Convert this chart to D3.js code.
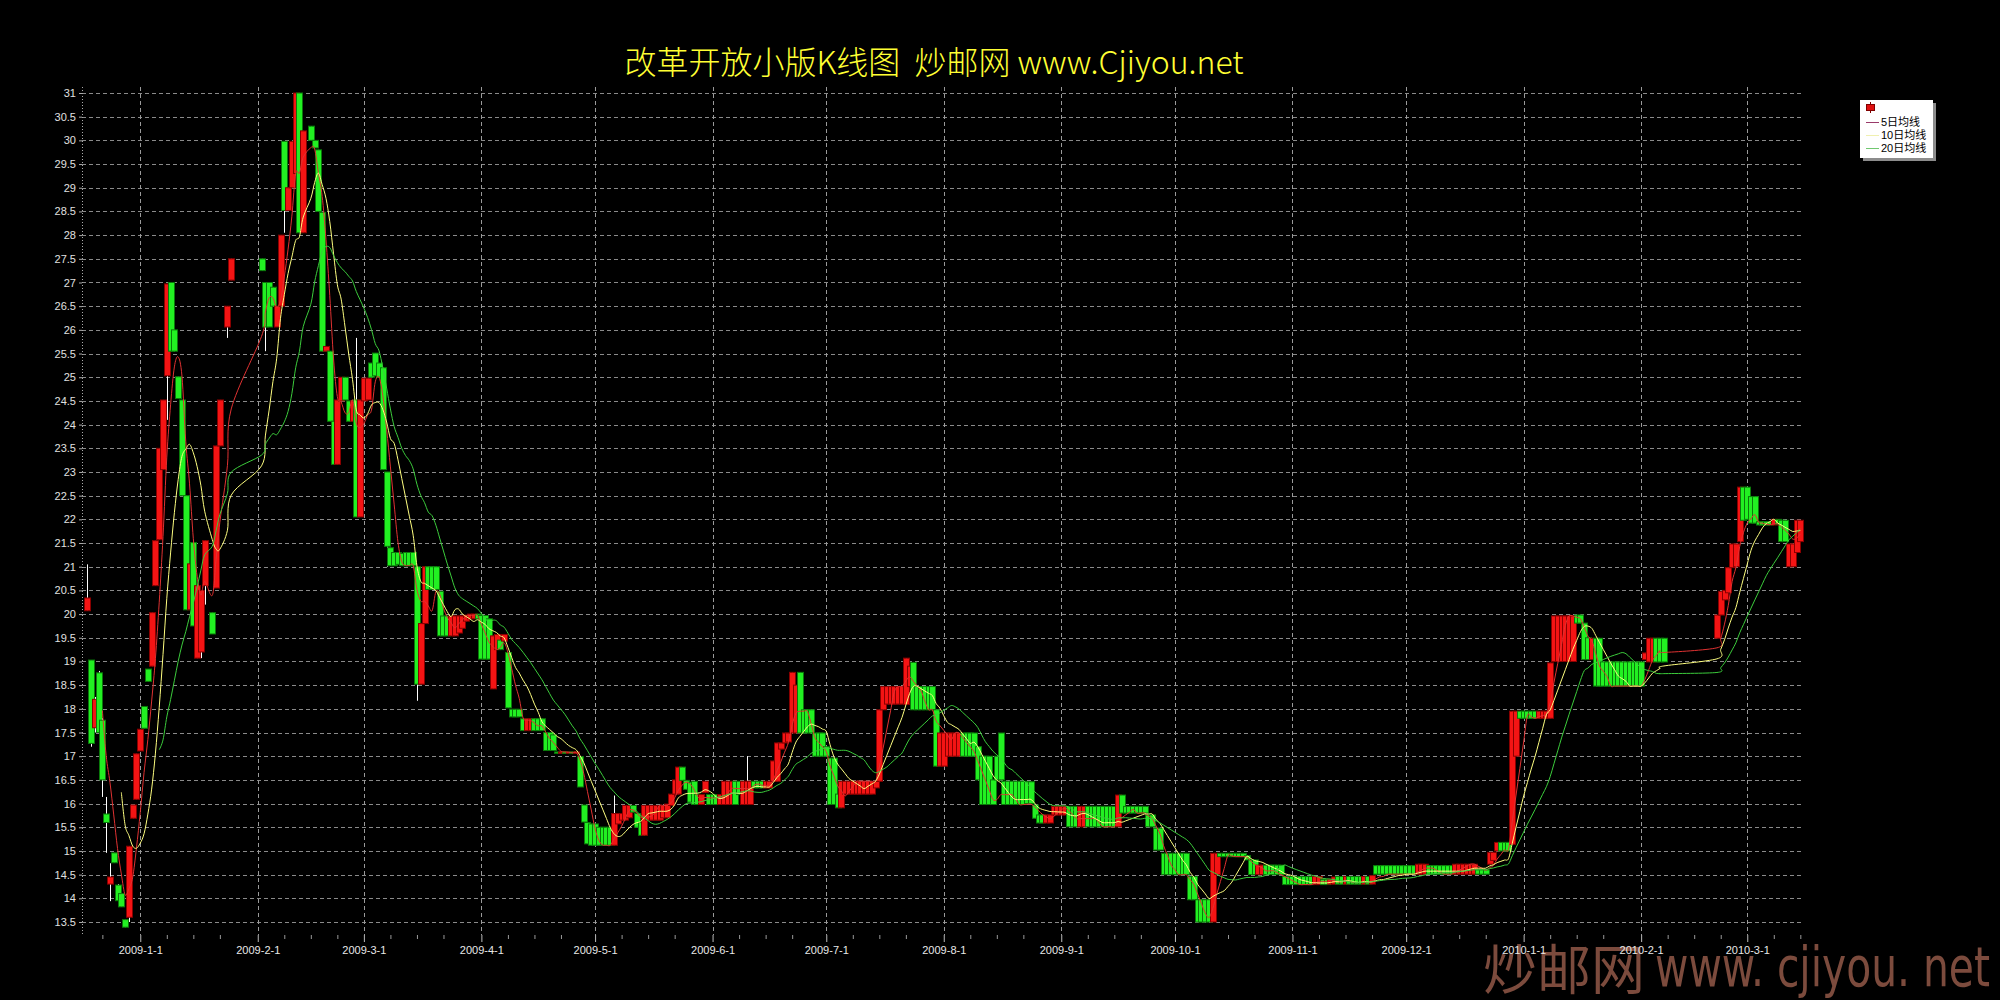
<!DOCTYPE html>
<html><head><meta charset="utf-8">
<script src="https://cdn.jsdelivr.net/npm/d3@7"></script>
<style>html,body{margin:0;padding:0;background:#000;overflow:hidden}svg{display:block}</style>
</head><body>
<svg id="c" width="2000" height="1000"></svg>
<script>
// ---- DATA (day = days since 2009-01-01) ----
const titleText = "改革开放小版K线图  炒邮网 www.Cjiyou.net";
const legendLabels = ["5日均线", "10日均线", "20日均线"];
const maPeriods = [5, 10, 20];
const yTickValues = [13.5,14,14.5,15,15.5,16,16.5,17,17.5,18,18.5,19,19.5,20,20.5,21,21.5,22,22.5,23,23.5,24,24.5,25,25.5,26,26.5,27,27.5,28,28.5,29,29.5,30,30.5,31];

const days = [
-14,-13,-12,-11,-10,-9,-8,-7,-6,-5,
-4,-3,-2,-1,0,1,2,3,4,5,
6,7,8,9,10,11,12,13,14,15,
16,17,19,20,21,23,24,
32,33,34,35,36,37,38,39,40,41,
42,43,45,46,47,48,49,50,51,52,
53,54,55,56,57,58,59,60,61,62,
63,64,65,66,67,68,69,70,71,72,
73,74,75,76,77,78,79,80,81,82,
83,84,85,86,87,88,89,90,91,92,
93,94,95,96,97,98,99,100,101,102,
103,104,105,106,107,108,109,110,111,112,
113,114,115,116,117,118,119,120,121,122,
123,124,125,126,127,128,129,130,131,132,
133,134,135,136,137,138,139,140,141,142,
143,144,145,146,147,148,149,150,151,152,
153,154,155,156,157,158,159,160,161,162,
163,164,165,166,167,168,169,170,171,172,
173,174,175,176,177,178,179,180,181,182,
183,184,185,186,187,188,189,190,191,192,
193,194,195,196,197,198,199,200,201,202,
203,204,205,206,207,208,209,210,211,212,
213,214,215,216,217,218,219,220,221,222,
223,224,225,226,227,228,229,230,231,232,
233,234,235,236,237,238,239,240,241,242,
243,244,245,246,247,248,249,250,251,252,
253,254,255,256,257,258,259,260,261,262,
263,264,265,266,267,268,269,270,271,272,
273,274,275,276,277,278,279,280,281,282,
283,284,285,286,287,288,289,290,291,292,
293,294,295,296,297,298,299,300,301,302,
303,304,305,306,307,308,309,310,311,312,
313,314,315,316,317,318,319,320,321,322,
323,324,325,326,327,328,329,330,331,332,
333,334,335,336,337,338,339,340,341,342,
343,344,345,346,347,348,349,350,351,352,
353,354,355,356,357,358,359,360,361,362,
363,364,365,366,367,368,369,370,371,372,
373,374,375,376,377,378,379,380,381,382,
383,384,385,386,387,388,389,390,391,392,
393,394,395,396,397,398,399,400,401,402,
416,417,418,419,420,421,422,423,424,425,
426,427,428,429,430,431,432,433,434,435,436,437,438
];

const open = [
20.07,19.03,17.60,18.76,17.76,15.78,14.30,14.96,14.28,14.10,
13.55,13.60,15.69,16.09,17.11,18.05,18.84,18.90,20.60,21.57,
23.05,25.03,27.00,26.00,25.01,24.52,22.50,20.09,21.51,19.07,
19.20,20.60,20.03,20.55,23.55,26.06,27.05,
27.50,27.00,27.00,26.90,26.06,26.50,29.98,28.52,29.00,29.30,
31.00,28.05,30.30,30.00,29.80,28.48,25.55,25.55,24.07,23.16,
24.50,25.00,24.50,24.07,24.52,22.05,24.50,24.52,25.30,25.51,
25.30,25.20,23.00,21.40,21.30,21.30,21.28,21.30,21.30,21.30,
21.00,18.52,19.80,21.00,21.00,21.00,20.48,19.96,19.96,19.54,
19.54,19.60,19.70,19.85,19.90,19.90,20.00,19.97,19.97,19.90,
18.42,19.25,19.45,19.43,19.19,17.99,17.99,17.99,17.79,17.54,
17.54,17.79,17.79,17.79,17.50,17.50,17.45,17.09,17.06,17.09,
17.06,17.09,17.06,16.99,15.97,15.60,15.57,15.57,15.50,15.50,
15.50,15.50,15.12,15.57,15.65,15.65,15.70,15.96,15.79,15.60,
15.33,15.65,15.65,15.65,15.65,15.70,15.70,15.96,16.20,16.20,
16.77,16.49,16.45,16.47,16.20,15.98,16.23,16.19,16.19,16.19,
15.98,15.98,15.98,15.98,16.47,16.47,15.98,15.98,15.98,16.47,
16.47,16.47,16.33,16.33,16.47,16.47,17.15,17.28,17.30,17.49,
17.49,18.77,17.98,17.98,17.98,17.49,17.49,17.49,17.20,16.96,
16.96,16.20,15.91,16.20,16.20,16.20,16.20,16.20,16.20,16.20,
16.20,16.33,16.47,17.98,18.10,18.10,18.10,18.10,18.10,18.09,
18.47,18.98,18.47,18.47,18.47,18.47,18.47,17.98,16.79,16.79,
17.00,17.00,17.00,17.00,17.49,17.49,17.49,17.49,17.20,17.00,
17.00,17.00,16.50,17.00,17.49,16.47,16.47,16.47,16.47,16.47,
16.47,16.46,16.46,15.97,15.76,15.76,15.59,15.59,15.76,15.76,
15.76,15.76,15.94,15.94,15.94,15.51,15.51,15.94,15.94,15.94,
15.94,15.94,15.94,15.94,15.94,15.51,16.18,15.94,15.94,15.94,
15.94,15.94,15.94,15.76,15.76,15.48,15.48,14.95,14.95,14.95,
14.95,14.95,14.95,14.95,14.46,14.46,13.97,13.97,13.97,13.97,
13.50,14.50,14.95,14.95,14.95,14.95,14.95,14.95,14.95,14.90,
14.81,14.81,14.50,14.50,14.70,14.70,14.70,14.70,14.70,14.46,
14.46,14.46,14.46,14.46,14.46,14.46,14.46,14.29,14.29,14.40,
14.40,14.30,14.30,14.46,14.46,14.30,14.46,14.46,14.46,14.46,
14.30,14.46,14.30,14.69,14.69,14.69,14.69,14.69,14.69,14.69,
14.69,14.69,14.69,14.69,14.51,14.51,14.51,14.69,14.69,14.69,
14.69,14.69,14.69,14.69,14.51,14.51,14.51,14.51,14.51,14.51,
14.60,14.60,14.60,14.72,14.80,15.00,15.18,15.18,15.18,15.14,
17.00,17.95,17.95,17.95,17.95,17.95,17.80,17.80,17.80,17.80,
19.00,19.00,19.00,19.00,19.00,19.00,19.98,19.98,19.81,19.50,
19.04,19.49,19.49,18.99,18.99,18.99,18.99,18.99,18.99,18.99,
18.99,18.99,18.99,18.99,19.04,18.99,18.99,19.49,19.49,19.49,
19.49,19.98,20.30,20.45,20.98,21.00,21.53,22.68,22.68,22.48,
22.48,21.95,21.95,21.95,21.95,21.88,22.00,21.98,21.98,21.00,21.00,21.30,21.53
];

const high = [
21.05,19.03,18.25,18.80,17.80,16.14,14.74,14.96,14.30,14.10,
13.55,15.10,15.97,17.05,17.57,18.05,18.84,20.03,21.55,23.50,
24.52,26.97,27.00,26.00,25.01,24.52,22.50,21.06,21.51,20.60,
20.50,21.55,20.03,23.55,24.52,26.50,27.50,
27.50,27.00,27.00,26.90,26.50,28.00,29.98,29.00,29.98,31.00,
31.00,30.20,30.30,30.00,29.80,28.48,25.65,25.55,24.07,24.52,
25.00,25.00,24.50,24.50,25.83,24.52,24.98,24.98,25.30,25.51,
25.30,25.20,23.00,21.40,21.30,21.30,21.28,21.30,21.30,21.30,
21.00,19.80,21.00,21.00,21.00,21.00,20.48,19.96,19.96,19.96,
19.96,19.96,19.96,19.98,20.00,20.00,20.00,19.97,19.97,19.90,
19.54,19.57,19.45,19.57,19.19,17.99,17.99,17.99,17.79,17.79,
17.79,17.79,17.79,17.79,17.50,17.50,17.45,17.09,17.09,17.09,
17.09,17.09,17.09,16.99,15.97,15.60,15.57,15.57,15.50,15.50,
15.50,15.50,16.17,15.79,15.79,15.96,15.96,15.96,15.79,15.60,
15.96,15.96,15.96,15.96,15.96,15.96,15.99,16.20,16.50,16.77,
16.77,16.49,16.45,16.47,16.20,16.19,16.47,16.19,16.19,16.19,
16.19,16.47,16.47,16.47,16.47,16.47,16.47,17.00,16.47,16.47,
16.47,16.47,16.47,16.47,16.90,17.28,17.28,17.49,17.49,18.77,
18.50,18.77,17.98,17.98,17.98,17.49,17.49,17.49,17.20,16.96,
16.96,16.20,16.47,16.47,16.47,16.47,16.47,16.47,16.47,16.47,
16.47,16.47,17.98,18.47,18.47,18.47,18.47,18.47,18.47,19.07,
18.90,18.98,18.47,18.47,18.47,18.47,18.47,17.98,17.49,17.49,
17.49,17.49,17.49,17.49,17.49,17.49,17.49,17.49,17.20,17.00,
17.00,17.00,16.50,17.00,17.49,16.47,16.47,16.47,16.47,16.47,
16.47,16.46,16.46,15.97,15.76,15.76,15.76,15.76,15.94,15.94,
15.94,15.94,15.94,15.94,15.94,15.94,15.94,15.94,15.94,15.94,
15.94,15.94,15.94,15.94,15.94,16.18,16.18,15.94,15.94,15.94,
15.94,15.94,15.94,15.76,15.76,15.48,15.48,14.95,14.95,14.95,
14.95,14.95,14.95,14.95,14.46,14.46,13.97,13.97,13.97,13.97,
14.95,14.95,14.95,14.95,14.95,14.95,14.95,14.95,14.95,14.90,
14.81,14.81,14.70,14.70,14.70,14.70,14.70,14.70,14.70,14.46,
14.46,14.46,14.46,14.46,14.46,14.46,14.46,14.46,14.46,14.40,
14.40,14.40,14.45,14.46,14.46,14.46,14.46,14.46,14.46,14.46,
14.46,14.46,14.48,14.69,14.69,14.69,14.69,14.69,14.69,14.69,
14.69,14.69,14.69,14.69,14.72,14.72,14.72,14.69,14.69,14.69,
14.69,14.69,14.69,14.69,14.72,14.72,14.72,14.72,14.72,14.72,
14.60,14.60,14.60,14.97,14.97,15.18,15.18,15.18,15.18,17.95,
17.95,17.95,17.95,17.95,17.95,17.95,17.95,17.95,17.95,18.97,
19.96,19.96,19.96,19.96,19.96,19.96,19.98,19.98,19.81,19.50,
19.49,19.49,19.49,18.99,18.99,18.99,18.99,18.99,18.99,18.99,
18.99,18.99,18.99,18.99,19.18,19.49,19.49,19.49,19.49,19.49,
19.98,20.48,20.50,20.98,21.48,21.48,22.68,22.68,22.68,22.48,
22.48,21.95,21.95,21.95,21.95,22.00,22.00,21.98,21.98,21.48,21.48,21.98,21.98
];

const low = [
20.07,17.20,17.50,17.50,16.14,14.96,13.94,14.75,13.90,13.82,
13.39,13.50,15.69,16.09,17.11,17.59,18.58,18.90,20.60,21.57,
23.05,24.10,25.55,25.55,24.55,22.50,20.09,20.09,19.75,19.07,
19.07,20.20,19.58,20.55,23.55,25.83,27.05,
27.25,25.55,26.06,26.50,26.06,26.50,28.05,28.52,29.00,29.30,
28.05,28.05,30.00,29.84,28.50,25.55,25.55,24.07,23.16,23.16,
24.50,24.52,24.07,24.07,22.05,22.05,24.50,24.52,25.00,25.03,
25.00,23.05,21.00,21.02,21.02,21.05,21.02,21.02,21.02,21.02,
18.17,18.52,19.80,20.52,20.52,20.52,19.54,19.54,19.54,19.54,
19.54,19.60,19.70,19.85,19.90,19.90,19.90,19.05,19.05,19.05,
18.42,19.25,19.25,19.43,18.02,17.83,17.83,17.83,17.54,17.54,
17.54,17.54,17.54,17.54,17.12,17.12,17.12,17.06,17.06,17.06,
17.06,17.06,17.06,16.35,15.61,15.15,15.12,15.12,15.12,15.12,
15.12,15.12,15.12,15.57,15.65,15.65,15.70,15.82,15.50,15.33,
15.33,15.65,15.65,15.65,15.65,15.70,15.70,15.96,16.20,16.20,
16.49,16.30,16.03,15.98,15.98,15.98,16.23,15.98,15.98,15.98,
15.98,15.98,15.98,15.98,15.98,16.19,15.98,15.98,15.98,16.33,
16.33,16.33,16.33,16.33,16.47,16.47,17.15,17.28,17.30,17.49,
17.49,17.49,17.49,17.49,17.49,17.00,17.00,17.00,17.00,15.98,
15.98,15.91,15.91,16.20,16.20,16.20,16.20,16.20,16.20,16.20,
16.20,16.33,16.47,17.98,18.10,18.10,18.10,18.10,18.10,18.09,
18.47,17.98,17.98,17.98,17.98,17.98,17.98,16.79,16.79,16.79,
17.00,17.00,17.00,17.00,17.00,17.00,17.00,17.00,16.50,15.98,
15.98,15.98,15.98,16.50,16.50,15.98,15.98,15.98,15.98,15.98,
15.98,16.00,16.00,15.69,15.59,15.59,15.59,15.59,15.76,15.76,
15.76,15.76,15.51,15.51,15.51,15.51,15.51,15.51,15.51,15.51,
15.51,15.51,15.51,15.51,15.51,15.51,15.80,15.80,15.80,15.80,
15.80,15.80,15.80,15.51,15.51,15.02,15.02,14.50,14.50,14.50,
14.50,14.50,14.50,14.50,13.97,13.97,13.50,13.50,13.50,13.50,
13.50,14.50,14.88,14.88,14.88,14.88,14.88,14.88,14.88,14.81,
14.50,14.50,14.50,14.50,14.50,14.50,14.50,14.50,14.50,14.29,
14.29,14.29,14.29,14.29,14.29,14.29,14.29,14.29,14.29,14.29,
14.29,14.30,14.30,14.30,14.30,14.30,14.30,14.30,14.30,14.30,
14.30,14.30,14.30,14.51,14.51,14.51,14.51,14.51,14.51,14.51,
14.51,14.51,14.51,14.51,14.51,14.51,14.51,14.51,14.51,14.51,
14.51,14.51,14.51,14.51,14.51,14.51,14.51,14.51,14.51,14.51,
14.51,14.51,14.51,14.72,14.80,15.00,15.00,15.00,15.00,15.14,
17.00,17.80,17.80,17.80,17.80,17.80,17.80,17.80,17.80,17.80,
19.00,19.00,19.00,19.00,19.00,19.00,19.81,19.81,19.04,19.04,
19.04,18.48,18.48,18.48,18.48,18.48,18.48,18.48,18.48,18.48,
18.48,18.48,18.48,18.48,19.04,18.99,18.99,18.99,18.99,18.99,
19.49,19.98,20.30,20.45,20.98,21.00,21.53,21.98,22.00,21.92,
21.92,21.88,21.88,21.88,21.88,21.88,21.90,21.53,21.53,21.00,21.00,21.30,21.53
];

const close = [
20.34,17.27,18.20,17.50,16.50,15.60,14.45,14.75,13.95,13.82,
13.39,15.10,15.97,17.05,17.57,17.59,18.58,20.03,21.55,23.50,
24.52,26.97,25.55,25.55,24.55,22.50,20.09,21.06,19.75,20.60,
20.50,21.55,19.58,23.55,24.52,26.50,27.50,
27.25,26.06,26.06,26.50,26.50,28.00,28.52,29.00,29.98,31.00,
28.05,30.20,30.00,29.84,28.50,25.55,25.65,24.07,23.16,24.52,
25.00,24.52,24.07,24.50,22.05,24.52,24.98,24.98,25.00,25.03,
25.00,23.05,21.43,21.02,21.02,21.05,21.02,21.02,21.02,21.02,
18.52,19.80,21.00,20.52,20.52,20.52,19.54,19.54,19.54,19.96,
19.96,19.96,19.96,19.98,20.00,20.00,19.90,19.05,19.05,19.05,
19.54,19.57,19.25,19.57,18.02,17.83,17.83,17.83,17.54,17.79,
17.79,17.54,17.54,17.54,17.12,17.12,17.12,17.06,17.09,17.06,
17.09,17.06,17.09,16.35,15.61,15.15,15.12,15.12,15.12,15.12,
15.12,15.12,15.79,15.79,15.79,15.96,15.96,15.82,15.50,15.33,
15.96,15.96,15.96,15.96,15.96,15.96,15.99,16.20,16.50,16.77,
16.49,16.30,16.03,15.98,15.98,16.19,16.47,15.98,15.98,15.98,
16.19,16.47,16.47,16.47,15.98,16.19,16.47,16.47,16.47,16.33,
16.33,16.33,16.47,16.47,16.90,17.28,17.28,17.49,17.49,18.77,
18.50,17.49,17.49,17.49,17.49,17.00,17.00,17.00,17.00,15.98,
15.98,15.91,16.47,16.47,16.47,16.47,16.47,16.47,16.47,16.47,
16.47,16.47,17.98,18.47,18.47,18.47,18.47,18.47,18.47,19.07,
18.90,17.98,17.98,17.98,17.98,17.98,17.98,16.79,17.49,17.49,
17.49,17.49,17.49,17.49,17.00,17.00,17.00,17.00,16.50,15.98,
15.98,15.98,15.98,16.50,16.50,15.98,15.98,15.98,15.98,15.98,
15.98,16.00,16.00,15.69,15.59,15.59,15.76,15.76,15.94,15.94,
15.94,15.94,15.51,15.51,15.51,15.94,15.94,15.51,15.51,15.51,
15.51,15.51,15.51,15.51,15.51,16.18,15.80,15.80,15.80,15.80,
15.80,15.80,15.80,15.51,15.51,15.02,15.02,14.50,14.50,14.50,
14.50,14.50,14.50,14.50,13.97,13.97,13.50,13.50,13.50,13.50,
14.95,14.95,14.88,14.88,14.88,14.88,14.88,14.88,14.88,14.81,
14.50,14.50,14.70,14.70,14.50,14.50,14.50,14.50,14.50,14.29,
14.29,14.29,14.29,14.29,14.29,14.29,14.29,14.46,14.46,14.29,
14.29,14.40,14.45,14.30,14.30,14.46,14.30,14.30,14.30,14.30,
14.46,14.30,14.48,14.51,14.51,14.51,14.51,14.51,14.51,14.51,
14.51,14.51,14.51,14.51,14.72,14.72,14.72,14.51,14.51,14.51,
14.51,14.51,14.51,14.51,14.72,14.72,14.72,14.72,14.72,14.72,
14.51,14.51,14.51,14.97,14.97,15.18,15.00,15.00,15.00,17.95,
17.95,17.80,17.80,17.80,17.80,17.80,17.95,17.95,17.95,18.97,
19.96,19.96,19.96,19.96,19.96,19.96,19.81,19.81,19.04,19.04,
19.49,18.48,18.48,18.48,18.48,18.48,18.48,18.48,18.48,18.48,
18.48,18.48,18.48,18.48,19.18,19.49,19.49,18.99,18.99,18.99,
19.98,20.48,20.50,20.98,21.48,21.48,22.68,21.98,22.00,21.92,
21.92,21.88,21.88,21.88,21.88,22.00,21.90,21.53,21.53,21.48,21.48,21.98,21.98
];

// ---- LAYOUT ----
const W = 2000, H = 1000;
const plot = {left: 82, right: 1803, top: 87, bottom: 935};
const base = new Date(2009, 0, 1);
const data = days.map((d, i) => ({date: d3.timeDay.offset(base, d), o: open[i], h: high[i], l: low[i], c: close[i]}));

const x = d3.scaleTime()
  .domain([new Date(2008, 11, 16, 15), new Date(2010, 2, 15, 17)])
  .range([plot.left, plot.right]);
const y = d3.scaleLinear().domain([13.5, 31]).range([922, 93]);

const svg = d3.select("#c");
svg.append("rect").attr("width", W).attr("height", H).attr("fill", "#000");

// watermark (behind everything else)
const wm = svg.append("g").attr("opacity", 0.9);
wm.append("text").attr("x", 1483).attr("y", 990).attr("fill", "#8a5444")
  .style("font-family", "'Noto Sans CJK SC',sans-serif").style("font-size", "54px").text("炒邮网");
wm.append("text").attr("x", 1655).attr("y", 986).attr("fill", "#8a5444")
  .attr("textLength", 335).attr("lengthAdjust", "spacingAndGlyphs")
  .style("font-family", "'DejaVu Sans Condensed','Liberation Sans Narrow',sans-serif").style("font-size", "56px").text("www. cjiyou. net");

// title
svg.append("text").attr("x", 934).attr("y", 74).attr("text-anchor", "middle")
  .attr("xml:space", "preserve").style("white-space", "pre")
  .attr("fill", "#ffff33").style("font-family", "'Noto Sans CJK SC','Liberation Sans',sans-serif")
  .style("font-size", "32px").style("font-weight", "300").text(titleText);

// horizontal gridlines
svg.append("g").selectAll("line").data(yTickValues).join("line")
  .attr("x1", plot.left).attr("x2", plot.right)
  .attr("y1", d => Math.round(y(d)) + 0.5).attr("y2", d => Math.round(y(d)) + 0.5)
  .attr("stroke", "#8a8a8a").attr("stroke-dasharray", "4,3");

// month gridlines
const months = d3.timeMonth.range(new Date(2009, 0, 1), new Date(2010, 2, 2));
svg.append("g").selectAll("line").data(months).join("line")
  .attr("x1", d => Math.round(x(d)) + 0.5).attr("x2", d => Math.round(x(d)) + 0.5)
  .attr("y1", plot.top).attr("y2", plot.bottom)
  .attr("stroke", "#9a9a9a").attr("stroke-dasharray", "4,3");

// y axis
svg.append("line").attr("x1", plot.left + 0.5).attr("x2", plot.left + 0.5)
  .attr("y1", plot.top).attr("y2", plot.bottom)
  .attr("stroke", "#aaa").attr("stroke-dasharray", "1,2");
const yAxis = svg.append("g").attr("transform", `translate(${plot.left},0)`)
  .call(d3.axisLeft(y).tickValues(yTickValues).tickSize(3).tickPadding(3).tickFormat(d3.format("")));
yAxis.select(".domain").remove();
yAxis.selectAll("line").attr("stroke", "#aaa");
yAxis.selectAll("text").attr("fill", "#e0e0e0").style("font-family", "'Liberation Sans',Arial,sans-serif").style("font-size", "11px");

// x axis
const xAxis = svg.append("g").attr("transform", `translate(0,${plot.bottom})`)
  .call(d3.axisBottom(x).tickValues(months).tickSize(7).tickPadding(4).tickFormat(d3.timeFormat("%Y-%-m-%-d")));
xAxis.select(".domain").remove();
xAxis.selectAll("line").attr("stroke", "#bbb");
xAxis.selectAll("text").attr("fill", "#e8e8e8").style("font-family", "'Liberation Sans',Arial,sans-serif").style("font-size", "11px");
const minorDates = [];
d3.timeMonth.range(new Date(2008, 11, 1), new Date(2010, 2, 2)).forEach(m => {
  [7, 14, 21].forEach(k => minorDates.push(d3.timeDay.offset(m, k)));
});
const xMinor = svg.append("g").attr("transform", `translate(0,${plot.bottom})`)
  .call(d3.axisBottom(x).tickValues(minorDates.filter(d => x(d) > plot.left && x(d) < plot.right)).tickSize(4).tickFormat(""));
xMinor.select(".domain").remove();
xMinor.selectAll("line").attr("stroke", "#999");

// candles
const bw = 6;
const cg = svg.append("g");
data.forEach(d => {
  const cx = Math.round(x(d.date));
  const up = d.c >= d.o;
  cg.append("line").attr("x1", cx + 0.5).attr("x2", cx + 0.5).attr("y1", y(d.h)).attr("y2", y(d.l))
    .attr("stroke", "#fff").attr("stroke-width", 1);
  const top = y(Math.max(d.o, d.c)), bot = y(Math.min(d.o, d.c));
  cg.append("rect").attr("x", cx - bw / 2 + 0.5).attr("y", top).attr("width", bw).attr("height", Math.max(1, bot - top))
    .attr("fill", up ? "#f41414" : "#22f022")
    .attr("stroke", up ? "#8a0000" : "#0a7a0a").attr("stroke-width", 1);
});

// moving averages
const maColors = ["#e03232", "#ffff80", "#3ccc3c"];
maPeriods.forEach((n, k) => {
  const pts = [];
  for (let i = n - 1; i < data.length; i++) {
    pts.push({date: data[i].date, v: d3.mean(close.slice(i - n + 1, i + 1))});
  }
  svg.append("path").datum(pts)
    .attr("d", d3.line().x(p => x(p.date)).y(p => y(p.v)).curve(d3.curveCardinal))
    .attr("fill", "none").attr("stroke", maColors[k]).attr("stroke-width", 1);
});

// legend
const lg = svg.append("g").attr("transform", "translate(1860,100)");
lg.append("rect").attr("x", 3).attr("y", 3).attr("width", 73).attr("height", 58).attr("fill", "#8c8c8c");
lg.append("rect").attr("x", 0).attr("y", 0).attr("width", 73).attr("height", 58).attr("fill", "#fff");
lg.append("line").attr("x1", 10.5).attr("x2", 10.5).attr("y1", 2).attr("y2", 13).attr("stroke", "#800000");
lg.append("rect").attr("x", 6.5).attr("y", 4.5).attr("width", 8).attr("height", 6).attr("fill", "#e01010").attr("stroke", "#800000");
const legColors = ["#9a3a6a", "#f0f0b0", "#70c870"];
legendLabels.forEach((t, i) => {
  const yy = 22 + i * 13;
  lg.append("line").attr("x1", 6).attr("x2", 19).attr("y1", yy + 0.5).attr("y2", yy + 0.5).attr("stroke", legColors[i]);
  lg.append("text").attr("x", 21).attr("y", yy + 4).attr("fill", "#000")
    .style("font-family", "'Liberation Sans','Noto Sans CJK SC',sans-serif").style("font-size", "11px").text(t);
});
</script>
</body></html>
